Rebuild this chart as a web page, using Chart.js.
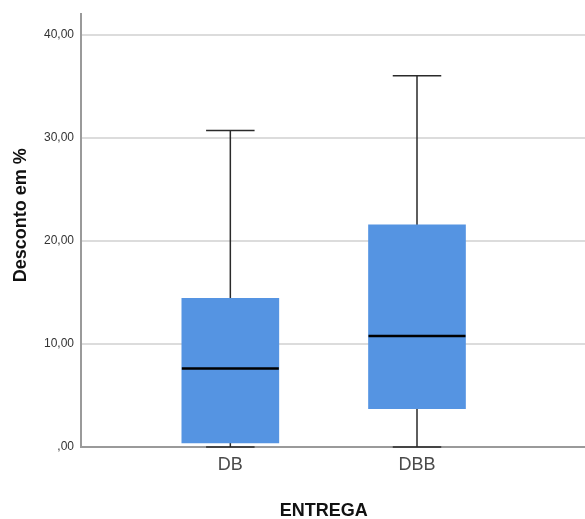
<!DOCTYPE html>
<html>
<head>
<meta charset="utf-8">
<title>Desconto em % por ENTREGA</title>
<script src="https://cdn.jsdelivr.net/npm/chart.js@4.4.1/dist/chart.umd.min.js"></script>
<style>
  html, body { margin: 0; padding: 0; background: #ffffff; }
  canvas { display: block; }
</style>
</head>
<body>
<canvas id="chart" width="585" height="519"></canvas>
<script>
// Box plot summary for each delivery type
const categories = ['DB', 'DBB'];
const minVals    = [0.00, 0.00];
const q1Vals     = [0.39, 3.72];
const medianVals = [7.61, 10.78];
const q3Vals     = [14.42, 21.55];
const maxVals    = [30.71, 36.03];
const yTicks     = [0, 10, 20, 30, 40];
const xPositions = [1, 2];

const BOX_COLOR = '#5594e2';
const WHISKER_COLOR = '#2a2a2a';
const FONT_FAMILY = '"Liberation Sans", Arial, sans-serif';

function fmtComma(v) {
  let s = v.toFixed(2).replace('.', ',');
  if (s.startsWith('0')) s = s.slice(1);
  return s;
}

// whiskers (under the boxes), medians and axis titles (over them)
const boxPlotExtras = {
  id: 'boxPlotExtras',
  beforeDatasetsDraw(chart) {
    const { ctx, scales: { x, y } } = chart;
    const meta = chart.getDatasetMeta(0);
    ctx.save();
    ctx.strokeStyle = WHISKER_COLOR;
    ctx.lineWidth = 1.5;
    xPositions.forEach((pos, i) => {
      const bar = meta.data[i];
      const half = bar.width / 2;
      const cx = x.getPixelForValue(pos);
      const capHalf = half / 2;
      const yMax = y.getPixelForValue(maxVals[i]);
      const yQ3 = y.getPixelForValue(q3Vals[i]);
      const yQ1 = y.getPixelForValue(q1Vals[i]);
      const yMin = y.getPixelForValue(minVals[i]);
      ctx.beginPath();
      ctx.moveTo(cx, yMax); ctx.lineTo(cx, yQ3);
      ctx.moveTo(cx - capHalf, yMax); ctx.lineTo(cx + capHalf, yMax);
      ctx.moveTo(cx, yQ1); ctx.lineTo(cx, yMin);
      ctx.moveTo(cx - capHalf, yMin); ctx.lineTo(cx + capHalf, yMin);
      ctx.stroke();
    });
    ctx.restore();
  },
  afterDatasetsDraw(chart) {
    const { ctx, scales: { x, y } } = chart;
    const meta = chart.getDatasetMeta(0);
    ctx.save();
    ctx.strokeStyle = '#000000';
    ctx.lineWidth = 2.5;
    xPositions.forEach((pos, i) => {
      const bar = meta.data[i];
      const half = bar.width / 2;
      const cx = x.getPixelForValue(pos);
      const ym = y.getPixelForValue(medianVals[i]);
      ctx.beginPath();
      ctx.moveTo(cx - half, ym); ctx.lineTo(cx + half, ym);
      ctx.stroke();
    });

    ctx.fillStyle = '#111111';
    ctx.font = 'bold 18px ' + FONT_FAMILY;
    ctx.textAlign = 'center';

    // x axis title, centred between the two groups
    ctx.textBaseline = 'middle';
    ctx.fillText('ENTREGA', x.getPixelForValue(1.5), 511);

    // y axis title, rotated
    ctx.translate(26, y.getPixelForValue(22.5));
    ctx.rotate(-Math.PI / 2);
    ctx.textBaseline = 'alphabetic';
    ctx.fillText('Desconto em %', 0, 0);
    ctx.restore();
  }
};

new Chart(document.getElementById('chart'), {
  type: 'bar',
  data: {
    datasets: [{
      label: 'Desconto em %',
      data: xPositions.map((pos, i) => ({ x: pos, y: [q1Vals[i], q3Vals[i]] })),
      backgroundColor: BOX_COLOR,
      borderWidth: 0,
      barThickness: 97,
      grouped: false
    }]
  },
  options: {
    responsive: false,
    devicePixelRatio: 1,
    animation: false,
    layout: { padding: { top: 13, left: 0, right: 0, bottom: 0 } },
    plugins: {
      legend: { display: false },
      tooltip: { enabled: false }
    },
    scales: {
      x: {
        type: 'linear',
        offset: false,
        min: 0.2,
        max: 2.9,
        afterBuildTicks(scale) { scale.ticks = xPositions.map(v => ({ value: v })); },
        afterFit(scale) { scale.height = 72; },
        ticks: {
          callback: (v) => categories[xPositions.indexOf(v)] ?? '',
          color: '#4a4a4a',
          font: { family: FONT_FAMILY, size: 18 },
          padding: 7,
          maxRotation: 0
        },
        grid: { display: false, drawTicks: false },
        border: { display: true, color: '#9a9a9a', width: 2 }
      },
      y: {
        min: 0,
        max: 42,
        afterBuildTicks(scale) { scale.ticks = yTicks.map(v => ({ value: v })); },
        afterFit(scale) { scale.width = 81; },
        ticks: {
          callback: (v) => fmtComma(v),
          color: '#333333',
          font: { family: FONT_FAMILY, size: 12 },
          padding: 7
        },
        grid: { color: '#dcdcdc', lineWidth: 2, drawTicks: false },
        border: { display: true, color: '#9a9a9a', width: 2 }
      }
    }
  },
  plugins: [boxPlotExtras]
});
</script>
</body>
</html>
